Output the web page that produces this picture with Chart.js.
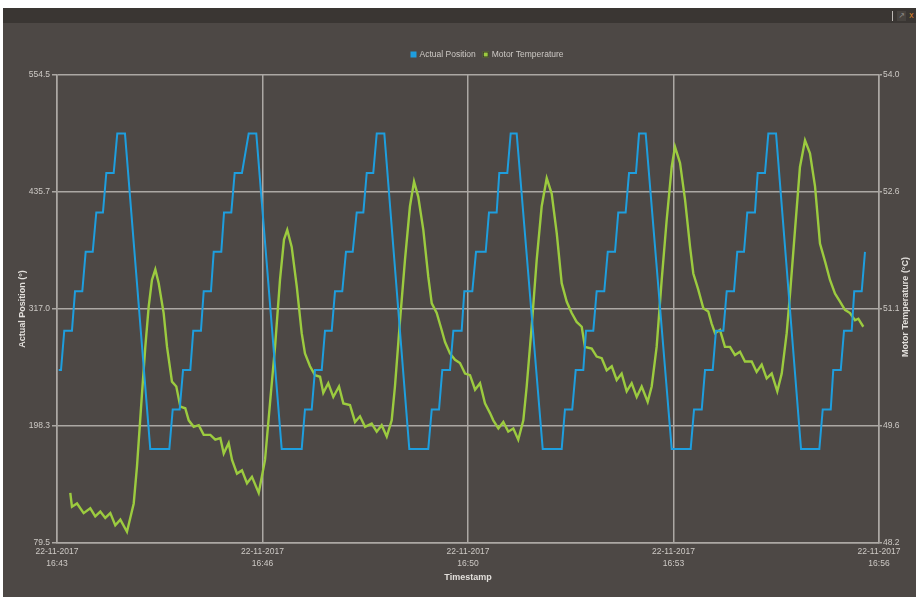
<!DOCTYPE html>
<html>
<head>
<meta charset="utf-8">
<title>Actual Position / Motor Temperature</title>
<script src="https://cdn.jsdelivr.net/npm/chart.js@4.4.1/dist/chart.umd.min.js"></script>
<style>
  body { margin: 0; background: #ffffff; }
  #frame { position: absolute; left: 3px; top: 8px; width: 913px; height: 589px; background: #4d4845; }
  #bar { position: relative; height: 15px; background: #3a3633; }
  #bar .sep { position: absolute; left: 889px; top: 3px; width: 1px; height: 10px; background: #bdb9b5; }
  #bar .btn { position: absolute; left: 894px; top: 3px; width: 9px; height: 10px; background: #47433f; color: #8d8985; font: 8px "DejaVu Sans"; line-height: 10px; text-align: center; }
  #bar .cls { position: absolute; left: 906px; top: 3px; width: 7px; height: 10px; color: #d9822b; font: 8px "DejaVu Sans"; line-height: 10px; }
  #wrap { position: relative; width: 913px; height: 574px; }
</style>
</head>
<body>
<div id="frame">
  <div id="bar"><div class="sep"></div><div class="btn">&#x2197;</div><div class="cls">x</div></div>
  <div id="wrap"><canvas id="chart"></canvas></div>
</div>
<script>
// seconds after 16:43:00 on 22-11-2017
const timeTicks = [0, 195, 390, 585, 780];
const timeLabels = [['22-11-2017', '16:43'], ['22-11-2017', '16:46'], ['22-11-2017', '16:50'], ['22-11-2017', '16:53'], ['22-11-2017', '16:56']];

const posTicks = [79.5, 198.25, 317.0, 435.75, 554.5];
const posTickLabels = ['79.5', '198.3', '317.0', '435.7', '554.5'];
const tempTicks = [48.2, 49.65, 51.1, 52.55, 54.0];
const tempTickLabels = ['48.2', '49.6', '51.1', '52.6', '54.0'];

// Actual Position (deg)
const posTime = [1.6, 3.8, 6.9, 14.2, 17.1, 24.0, 27.2, 33.9, 37.3, 43.6, 46.8, 53.8, 57.2, 64.5,
  88.5, 106.6, 109.8, 116.4, 119.6, 126.5, 129.3, 136.6, 139.2, 146.1, 148.7, 155.9, 158.5, 165.4, 168.6, 175.5, 181.9, 189.1,
  213.2, 232.2, 235.3, 241.7, 244.8, 251.2, 254.3, 260.7, 263.8, 270.7, 274.2, 280.6, 284.4, 290.7, 293.9, 300.1, 303.4, 310.6,
  334.3, 352.3, 355.6, 362.5, 365.6, 372.9, 376.1, 384.0, 386.5, 394.1, 397.6, 406.8, 409.9, 417.2, 419.7, 427.3, 430.5, 436.2,
  460.9, 478.9, 482.0, 488.9, 492.2, 499.4, 502.0, 508.9, 512.1, 519.3, 522.6, 529.5, 532.6, 539.6, 542.8, 549.4, 552.3, 558.6,
  583.3, 601.3, 604.5, 611.8, 614.9, 622.2, 625.3, 632.3, 635.5, 642.4, 645.5, 651.9, 655.0, 662.3, 664.9, 671.8, 675.0, 682.3,
  706.0, 723.4, 726.6, 734.2, 736.6, 743.7, 746.8, 754.1, 756.5, 763.6, 766.7];
const posValue = [255, 255, 295, 295, 335, 335, 375, 375, 415, 415, 455, 455, 495, 495,
  175, 175, 215, 215, 255, 255, 295, 295, 335, 335, 375, 375, 415, 415, 455, 455, 495, 495,
  175, 175, 215, 215, 255, 255, 295, 295, 335, 335, 375, 375, 415, 415, 455, 455, 495, 495,
  175, 175, 215, 215, 255, 255, 295, 295, 335, 335, 375, 375, 415, 415, 455, 455, 495, 495,
  175, 175, 215, 215, 255, 255, 295, 295, 335, 335, 375, 375, 415, 415, 455, 455, 495, 495,
  175, 175, 215, 215, 255, 255, 295, 295, 335, 335, 375, 375, 415, 415, 455, 455, 495, 495,
  175, 175, 215, 215, 255, 255, 295, 295, 335, 335, 375];

// Motor Temperature (degC)
const tempTime = [12.6, 14.2, 19.0, 25.3, 31.6, 36.3, 41.1, 45.8, 50.6, 55.3,
  60.1, 66.4, 72.8, 75.9, 80.7, 83.8, 87.0, 90.1, 93.3, 96.5,
  101.2, 104.4, 109.1, 113.2, 117.0, 121.7, 125.0, 129.7, 134.5, 139.2,
  145.5, 150.2, 155.0, 158.2, 162.9, 166.1, 170.8, 175.5, 180.3, 185.0,
  191.4, 197.4, 202.1, 206.9, 211.6, 215.4, 218.5, 222.7, 227.5, 232.2,
  235.3, 240.1, 244.8, 249.6, 252.7, 257.4, 262.2, 267.6, 271.7, 278.0,
  282.8, 287.5, 292.3, 298.6, 303.4, 308.1, 312.9, 317.6, 320.7, 325.5,
  330.2, 334.9, 338.8, 342.8, 347.6, 352.3, 355.6, 360.3, 365.0, 368.2,
  372.9, 377.7, 382.4, 387.2, 391.9, 396.7, 401.4, 406.1, 410.9, 414.0,
  418.8, 423.5, 428.2, 433.0, 437.7, 442.5, 445.7, 450.4, 455.2, 459.9,
  464.7, 469.4, 474.2, 478.9, 483.7, 488.4, 493.1, 497.9, 501.0, 507.4,
  512.1, 516.9, 521.6, 526.4, 531.1, 535.8, 540.6, 545.3, 550.1, 554.8,
  560.5, 564.3, 569.0, 573.8, 578.5, 583.3, 586.4, 591.2, 596.0, 600.7,
  603.8, 608.5, 613.3, 618.0, 621.2, 624.4, 629.1, 633.8, 638.6, 643.3,
  648.1, 652.8, 659.2, 663.9, 668.7, 673.4, 678.2, 683.5, 687.7, 692.4,
  695.6, 700.3, 705.0, 709.8, 714.5, 719.3, 724.0, 728.8, 733.5, 738.3,
  743.0, 747.7, 752.5, 757.2, 760.4, 765.1];
const tempValue = [48.82, 48.65, 48.69, 48.57, 48.63, 48.53, 48.59, 48.51, 48.57, 48.42,
  48.49, 48.34, 48.69, 49.15, 50.06, 50.63, 51.13, 51.46, 51.59, 51.42,
  51.05, 50.63, 50.20, 50.14, 49.89, 49.87, 49.72, 49.64, 49.66, 49.54,
  49.54, 49.48, 49.50, 49.31, 49.44, 49.23, 49.06, 49.10, 48.94, 49.02,
  48.82, 49.23, 49.93, 50.63, 51.46, 51.96, 52.08, 51.87, 51.38, 50.80,
  50.55, 50.39, 50.28, 50.26, 50.06, 50.18, 50.01, 50.14, 49.93, 49.91,
  49.70, 49.77, 49.64, 49.68, 49.58, 49.66, 49.52, 49.72, 50.14, 50.96,
  51.71, 52.37, 52.68, 52.49, 52.08, 51.50, 51.17, 51.05, 50.84, 50.69,
  50.55, 50.47, 50.43, 50.30, 50.28, 50.10, 50.18, 49.93, 49.81, 49.72,
  49.62, 49.70, 49.58, 49.62, 49.48, 49.72, 50.14, 50.88, 51.71, 52.37,
  52.72, 52.53, 52.04, 51.42, 51.19, 51.05, 50.94, 50.88, 50.63, 50.61,
  50.51, 50.49, 50.34, 50.39, 50.22, 50.30, 50.08, 50.18, 50.01, 50.14,
  49.95, 50.14, 50.63, 51.46, 52.20, 52.86, 53.11, 52.91, 52.45, 51.87,
  51.54, 51.34, 51.11, 51.07, 50.92, 50.80, 50.84, 50.63, 50.63, 50.53,
  50.57, 50.45, 50.45, 50.32, 50.41, 50.24, 50.30, 50.08, 50.30, 50.80,
  51.29, 52.08, 52.86, 53.19, 53.03, 52.62, 51.91, 51.69, 51.46, 51.29,
  51.19, 51.09, 51.05, 50.96, 50.98, 50.88];

const gridColor = '#aca8a4';
const tickColor = '#cdc9c5';
const titleColor = '#e2dfdb';
const blue = '#1e9ede';
const green = '#9ccb3f';

const toPoints = (xs, ys) => xs.map((x, i) => ({ x: x, y: ys[i] }));

// draws the legend and the right-hand axis title (reads bottom to top like the left one)
const extras = {
  id: 'extras',
  afterDraw(chart) {
    const ctx = chart.ctx;
    ctx.save();
    ctx.font = '8.5px "Liberation Sans"';
    ctx.textBaseline = 'middle';
    let x = 407.5;
    const y = 31.5;
    chart.data.datasets.forEach((ds) => {
      ctx.fillStyle = ds.borderColor;
      ctx.fillRect(x, y - 3, 6, 6);
      if (ds.yAxisID === 'y1') {
        ctx.strokeStyle = '#2e2b29';
        ctx.lineWidth = 1;
        ctx.strokeRect(x + 0.5, y - 2.5, 5, 5);
      }
      x += 9;
      ctx.fillStyle = tickColor;
      ctx.fillText(ds.label, x, y);
      x += ctx.measureText(ds.label).width + 7;
    });

    const area = chart.chartArea;
    ctx.translate(903, (area.top + area.bottom) / 2 - 2);
    ctx.rotate(-Math.PI / 2);
    ctx.font = 'bold 9px "Liberation Sans"';
    ctx.fillStyle = titleColor;
    ctx.textAlign = 'center';
    ctx.fillText('Motor Temperature (°C)', 0, 0);
    ctx.restore();
  }
};

new Chart(document.getElementById('chart'), {
  type: 'line',
  data: {
    datasets: [{
      label: 'Actual Position',
      data: toPoints(posTime, posValue),
      borderColor: blue,
      backgroundColor: blue,
      borderWidth: 2,
      pointRadius: 0,
      tension: 0,
      yAxisID: 'y'
    }, {
      label: 'Motor Temperature',
      data: toPoints(tempTime, tempValue),
      borderColor: green,
      backgroundColor: green,
      borderWidth: 2.4,
      pointRadius: 0,
      tension: 0,
      yAxisID: 'y1'
    }]
  },
  options: {
    responsive: true,
    maintainAspectRatio: false,
    animation: false,
    layout: { padding: { top: 52, left: 0, right: 0, bottom: 0 } },
    plugins: {
      legend: { display: false },
      tooltip: { enabled: false }
    },
    scales: {
      x: {
        type: 'linear',
        min: 0,
        max: 780,
        afterBuildTicks: (scale) => { scale.ticks = timeTicks.map(v => ({ value: v })); },
        afterFit: (scale) => { scale.height = 54; },
        ticks: {
          autoSkip: false,
          maxRotation: 0,
          padding: 2,
          color: tickColor,
          font: { family: 'Liberation Sans', size: 8.5, lineHeight: 1.5 },
          callback: (v, i) => timeLabels[i]
        },
        grid: { color: gridColor, lineWidth: 1.5, drawTicks: false },
        border: { color: gridColor, width: 1.5 },
        title: {
          display: true,
          text: 'Timestamp',
          color: titleColor,
          font: { family: 'Liberation Sans', size: 9, weight: 'bold' },
          padding: { top: 0, bottom: 14 }
        }
      },
      y: {
        position: 'left',
        min: 79.5,
        max: 554.5,
        afterBuildTicks: (scale) => { scale.ticks = posTicks.map(v => ({ value: v })); },
        afterFit: (scale) => { scale.width = 54; },
        ticks: {
          padding: 2,
          color: tickColor,
          font: { family: 'Liberation Sans', size: 8.5 },
          callback: (v, i) => posTickLabels[i]
        },
        grid: { color: gridColor, lineWidth: 1.5, tickLength: 5 },
        border: { color: gridColor, width: 1.5 },
        title: {
          display: true,
          text: 'Actual Position (°)',
          color: titleColor,
          font: { family: 'Liberation Sans', size: 9, weight: 'bold' },
          padding: { top: 14, bottom: 0 }
        }
      },
      y1: {
        position: 'right',
        min: 48.2,
        max: 54.0,
        afterBuildTicks: (scale) => { scale.ticks = tempTicks.map(v => ({ value: v })); },
        afterFit: (scale) => { scale.width = 37; },
        ticks: {
          padding: 1,
          color: tickColor,
          font: { family: 'Liberation Sans', size: 8.5 },
          callback: (v, i) => tempTickLabels[i]
        },
        grid: { drawOnChartArea: false, color: gridColor, lineWidth: 1.5, tickLength: 3 },
        border: { color: gridColor, width: 1.5 }
      }
    }
  },
  plugins: [extras]
});
</script>
</body>
</html>
